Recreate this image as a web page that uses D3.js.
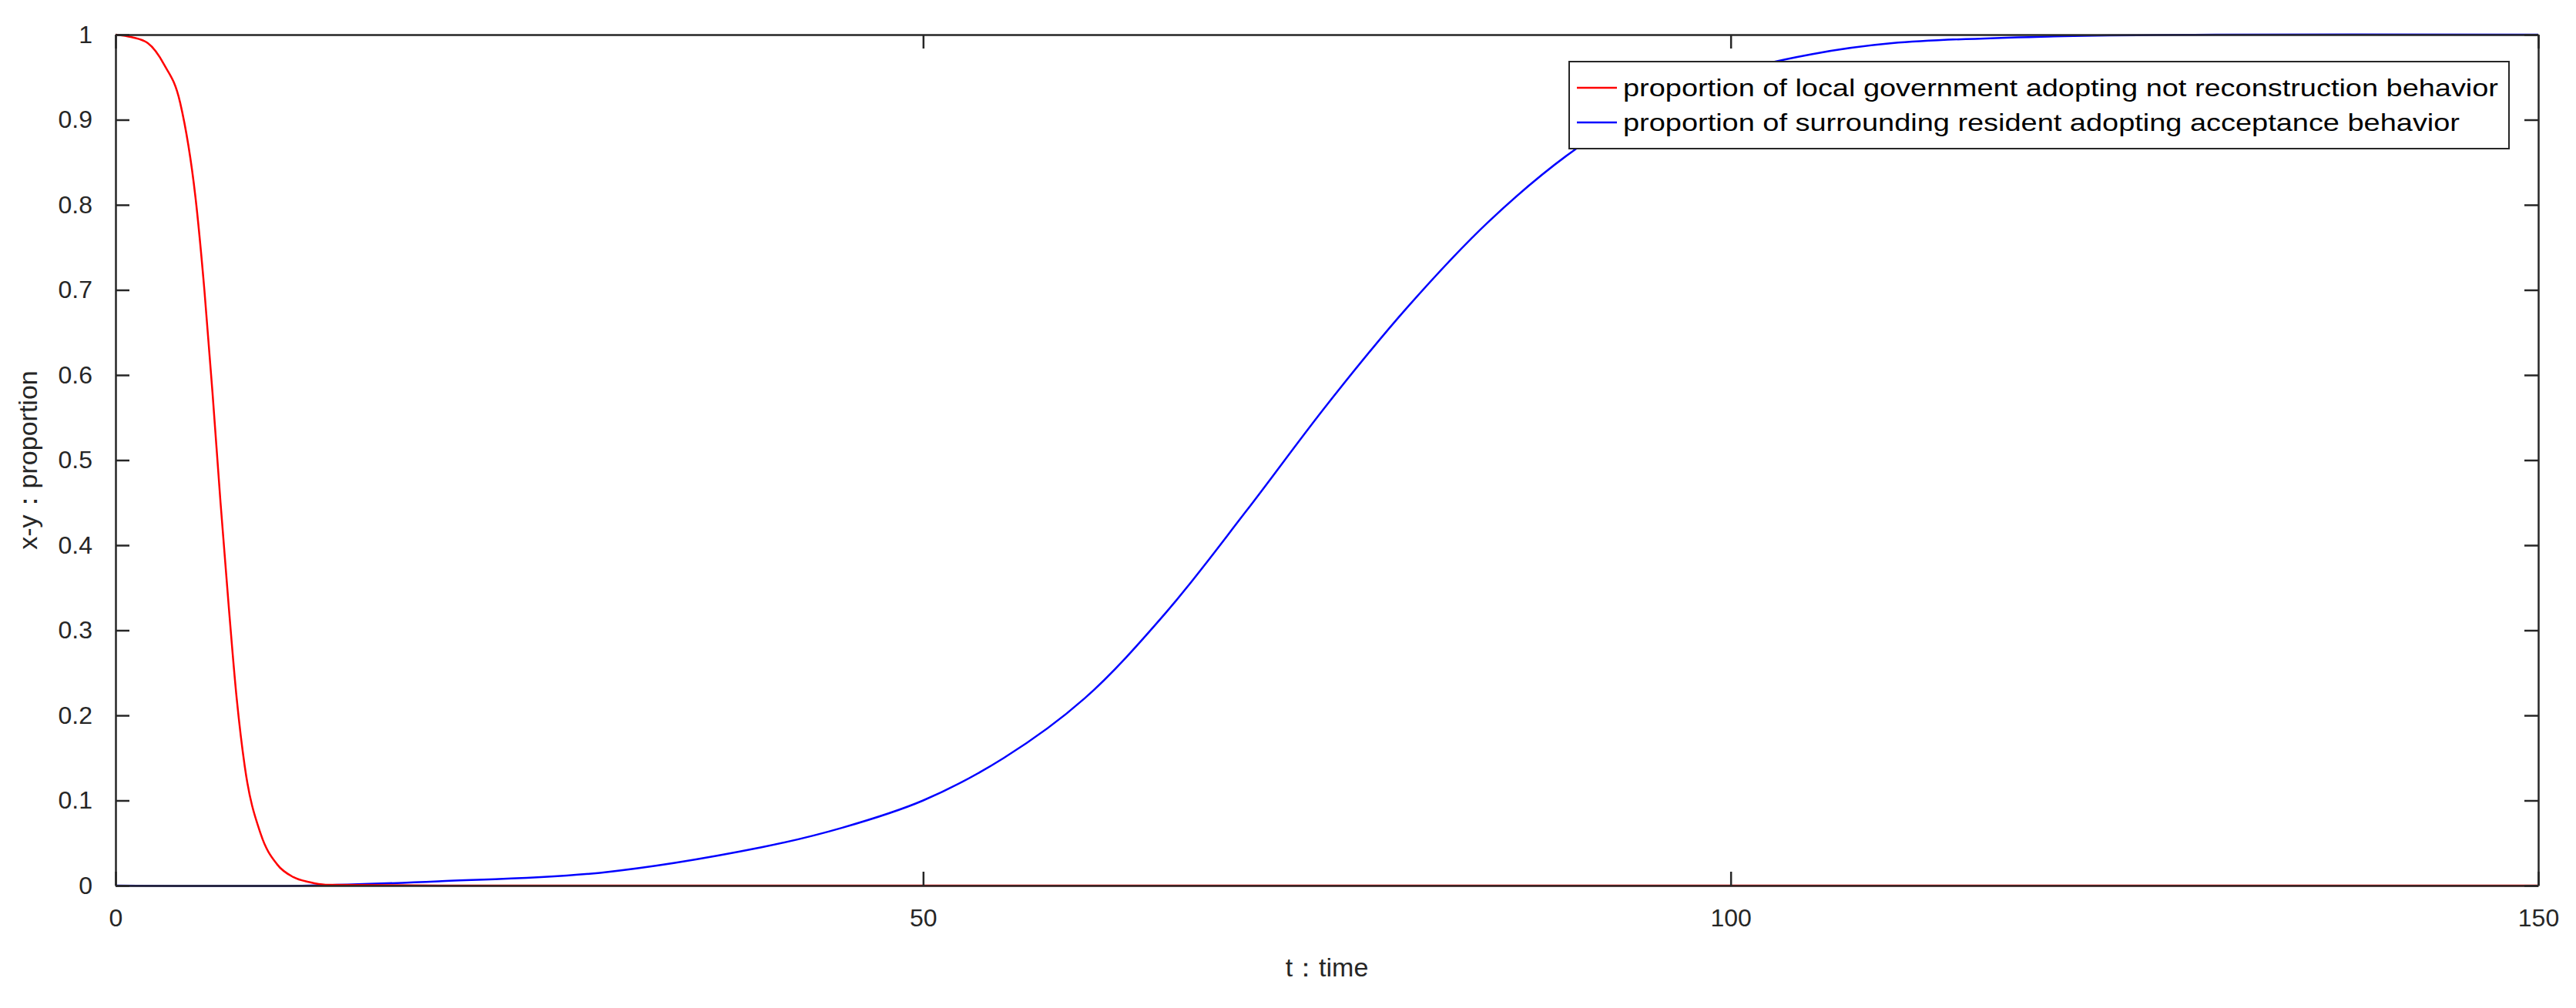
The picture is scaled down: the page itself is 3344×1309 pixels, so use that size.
<!DOCTYPE html>
<html><head><meta charset="utf-8">
<script src="https://cdn.jsdelivr.net/npm/d3@7"></script>
<style>body{margin:0;background:#fff}</style></head>
<body><svg id="c" width="3344" height="1309"></svg>
<script>
const redT = [0,1,2,3,4,5,5.5,6,6.5,7,7.5,8,9,10,11,12,13,20,50,100,150];
const redY = [1,0.997,0.99,0.965,0.92,0.80,0.70,0.58,0.45,0.33,0.22,0.14,0.06,0.025,0.01,0.004,0.001,0,0,0,0];
const blueT = [0,12,20,30,40,45,50,55,60,65,70,75,80,85,90,95,100,105,110,120,130,150];
const blueY = [0,0,0.005,0.015,0.045,0.068,0.10,0.15,0.22,0.32,0.44,0.565,0.68,0.78,0.86,0.92,0.955,0.977,0.99,0.998,1,1];
const xTicks = [0,50,100,150];
const yTicks = [0,0.1,0.2,0.3,0.4,0.5,0.6,0.7,0.8,0.9,1];
const legendLabels = ["proportion of local government adopting not reconstruction behavior","proportion of surrounding resident adopting acceptance behavior"];
const legendWidths = [1136,1086];

const L=150,R=3295,T=45,B=1150;
const svg=d3.select("#c");
const x=d3.scaleLinear().domain([0,150]).range([L,R]);
const y=d3.scaleLinear().domain([0,1]).range([B,T]);
const font="Liberation Sans, Arial, sans-serif";
const g=svg.append("g");
const line=d3.line().x(d=>x(d[0])).y(d=>y(d[1])).curve(d3.curveCatmullRom.alpha(0.5));
g.append("path").datum(blueT.map((t,i)=>[t,blueY[i]])).attr("d",line).attr("fill","none").attr("stroke","#0000ff").attr("stroke-width",2.5);
g.append("path").datum(redT.map((t,i)=>[t,redY[i]])).attr("d",line.curve(d3.curveMonotoneX)).attr("fill","none").attr("stroke","#ff0000").attr("stroke-width",2.5);

function style(a){a.selectAll("path,line").attr("stroke","#262626").attr("stroke-width",2.5);
 a.selectAll("text").attr("font-family",font).attr("font-size",32).attr("fill","#262626");}
const ax=[
 svg.append("g").attr("transform",`translate(0,${B})`).call(d3.axisBottom(x).tickValues(xTicks).tickSize(-18).tickPadding(30).tickSizeOuter(0)),
 svg.append("g").attr("transform",`translate(0,${T})`).call(d3.axisTop(x).tickValues(xTicks).tickSize(-18).tickFormat("").tickSizeOuter(0)),
 svg.append("g").attr("transform",`translate(${L},0)`).call(d3.axisLeft(y).tickValues(yTicks).tickSize(-18).tickPadding(30).tickFormat(d3.format("~g")).tickSizeOuter(0)),
 svg.append("g").attr("transform",`translate(${R},0)`).call(d3.axisRight(y).tickValues(yTicks).tickSize(-18).tickFormat("").tickSizeOuter(0))
];
ax.forEach(style);

svg.append("text").attr("x",(L+R)/2).attr("y",1268).attr("text-anchor","middle").attr("font-family",font).attr("font-size",34).attr("fill","#262626").text("t：time");
svg.append("text").attr("transform",`translate(48,${(T+B)/2}) rotate(-90)`).attr("text-anchor","middle").attr("font-family",font).attr("font-size",34).attr("fill","#262626").text("x-y：proportion");

const lg=svg.append("g").attr("transform","translate(2037,80)");
lg.append("rect").attr("width",1220).attr("height",113).attr("fill","#fff").attr("stroke","#262626").attr("stroke-width",2);
const cols=["#ff0000","#0000ff"];
legendLabels.forEach((s,i)=>{
 const yy=34+i*45;
 lg.append("line").attr("x1",10).attr("x2",62).attr("y1",yy).attr("y2",yy).attr("stroke",cols[i]).attr("stroke-width",2.5);
 lg.append("text").attr("x",70).attr("y",yy+11).attr("font-family",font).attr("font-size",32)
   .attr("textLength",legendWidths[i]).attr("lengthAdjust","spacingAndGlyphs").attr("fill","#000").text(s);
});
</script></body></html>
